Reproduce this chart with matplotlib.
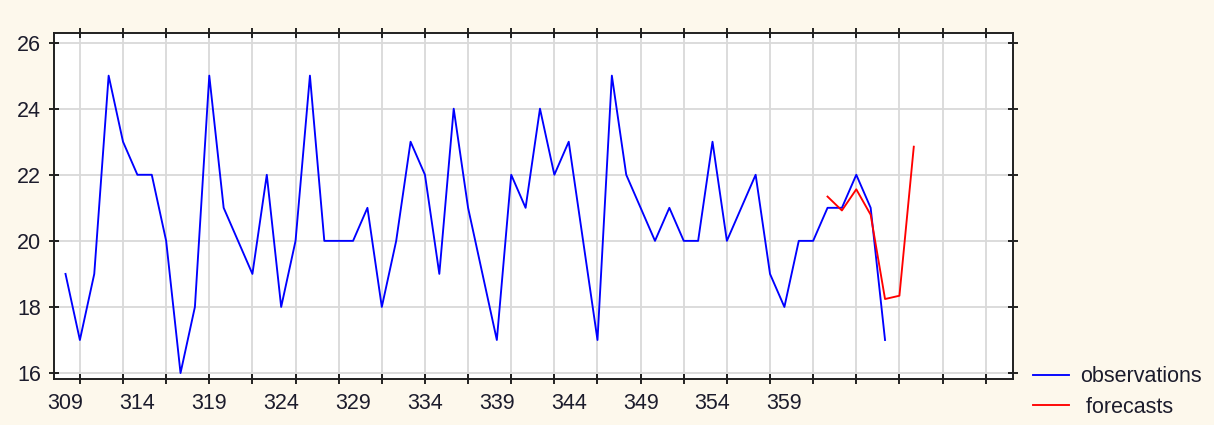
import matplotlib
matplotlib.use("Agg")
import matplotlib.pyplot as plt

# observed series, t = 309..366
obs_t = list(range(309, 367))
obs = [19, 17, 19, 25, 23, 22, 22, 20, 16, 18,
       25, 21, 20, 19, 22, 18, 20, 25, 20, 20,
       20, 21, 18, 20, 23, 22, 19, 24, 21, 19,
       17, 22, 21, 24, 22, 23, 20, 17, 25, 22,
       21, 20, 21, 20, 20, 23, 20, 21, 22, 19,
       18, 20, 20, 21, 21, 22, 21, 17]

# forecasts, t = 362..368
fc_t = list(range(362, 369))
fc = [21.34, 20.92, 21.56, 20.79, 18.24, 18.34, 22.85]

grid_x = list(range(310, 374, 3))
label_x = list(range(309, 360, 5))
y_ticks = [16, 18, 20, 22, 24, 26]

plt.rcParams['font.family'] = ['Liberation Sans', 'DejaVu Sans']
text_color = '#1c1c2c'

fig = plt.figure(figsize=(12.14, 4.25), dpi=100, facecolor='#fdf8ec')
ax = fig.add_axes([54 / 1214, 1 - 379 / 425, (1013 - 54) / 1214, (379 - 33) / 425])
ax.set_facecolor('white')

ax.plot(obs_t, obs, color='#0000ff', lw=1.35, label='observations', zorder=3)
ax.plot(fc_t, fc, color='#ff0000', lw=1.35, label=' forecasts', zorder=4)

ax.set_xlim(308.2, 374.9)
ax.set_ylim(15.82, 26.29)

# gridlines / ticks every 3, labels every 5
ax.xaxis.remove_overlapping_locs = False
ax.set_xticks(grid_x)
ax.set_xticklabels([])
ax.set_xticks(label_x, minor=True)
ax.set_xticklabels([str(v) for v in label_x], minor=True)
ax.tick_params(axis='x', which='minor', length=0, pad=10,
               labelsize=15.5, labelcolor=text_color)
ax.tick_params(axis='x', which='major', direction='inout', length=7,
               top=True, width=1.2)
ax.set_yticks(y_ticks)
ax.tick_params(axis='y', which='major', direction='inout', length=7,
               right=True, width=1.2, labelsize=15.5, labelcolor=text_color, pad=6)

ax.grid(True, which='major', color='#d9d9d9', lw=1.3, zorder=0)
for s in ax.spines.values():
    s.set_linewidth(1.4)
    s.set_color('#202020')

leg = fig.legend(loc='center left', bbox_to_anchor=(1022 / 1214, 1 - 392 / 425),
                 frameon=False, fontsize=15.5, handlelength=1.7,
                 handletextpad=0.5, labelspacing=0.45, borderpad=0)
for t in leg.get_texts():
    t.set_color(text_color)

fig.savefig('out.png', dpi=100, facecolor=fig.get_facecolor())
